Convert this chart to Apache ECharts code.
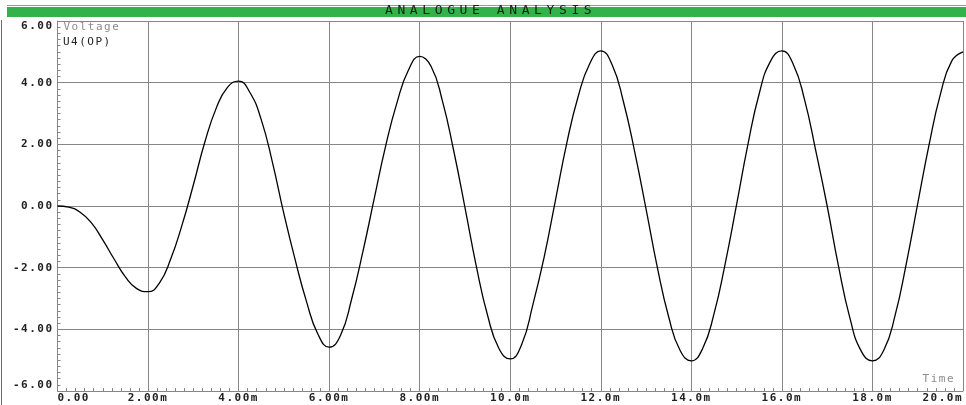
<!DOCTYPE html>
<html><head><meta charset="utf-8">
<script src="https://cdn.jsdelivr.net/npm/echarts@6/dist/echarts.min.js"></script>
<style>html,body{margin:0;padding:0;background:#fff}#c{width:966px;height:405px}</style>
</head><body><div id="c"></div>
<script>
const titleText = 'ANALOGUE ANALYSIS';
const yAxisName = 'Voltage';
const xAxisName = 'Time';
const seriesName = 'U4(OP)';
const xTickLabels = ['0.00','2.00m','4.00m','6.00m','8.00m','10.0m','12.0m','14.0m','16.0m','18.0m','20.0m'];
const yTickLabels = ['-6.00','-4.00','-2.00','0.00','2.00','4.00','6.00'];
const timeMs = [0,0.25,0.5,0.75,1,1.25,1.5,1.75,2,2.25,2.5,2.75,3,3.25,3.5,3.75,4,
  4.25,4.5,4.75,5,5.25,5.5,5.75,6,6.25,6.5,6.75,7,7.25,7.5,7.75,8,
  8.25,8.5,8.75,9,9.25,9.5,9.75,10,10.25,10.5,10.75,11,11.25,11.5,11.75,12,
  12.25,12.5,12.75,13,13.25,13.5,13.75,14,14.25,14.5,14.75,15,15.25,15.5,15.75,16,
  16.25,16.5,16.75,17,17.25,17.5,17.75,18,18.25,18.5,18.75,19,19.25,19.5,19.75,20];
const voltage = [0,-0.04,-0.2,-0.55,-1.1,-1.72,-2.3,-2.68,-2.78,-2.5,-1.72,-0.62,0.68,2.05,3.15,3.84,4.05,
  3.68,2.8,1.4,-0.25,-1.75,-3.1,-4.15,-4.58,-4.2,-3.0,-1.45,0.27,1.96,3.36,4.4,4.85,
  4.53,3.42,1.8,-0.05,-1.95,-3.55,-4.62,-4.96,-4.5,-3.2,-1.65,0.2,2.05,3.55,4.6,5.03,
  4.58,3.38,1.75,-0.1,-2.0,-3.6,-4.68,-5.02,-4.62,-3.5,-1.85,0.05,2.0,3.65,4.7,5.03,
  4.6,3.45,1.78,0.0,-1.95,-3.62,-4.7,-5.02,-4.68,-3.55,-1.85,0.08,1.98,3.62,4.7,5.0];

// wider letter spacing for the pixel-font look
(function(){
  const P = CanvasRenderingContext2D.prototype; const orig = P.fillText;
  P.fillText = function(t, x, y, m){
    if ('letterSpacing' in this && this.font && this.font.indexOf('DejaVu Sans Mono') >= 0) {
      const o = this.letterSpacing;
      this.letterSpacing = (t === titleText) ? '4.6px' : '1.5px';
      const r = (m === undefined) ? orig.call(this, t, x, y) : orig.call(this, t, x, y, m);
      this.letterSpacing = o; return r;
    }
    return (m === undefined) ? orig.call(this, t, x, y) : orig.call(this, t, x, y, m);
  };
})();

const FONT = 'DejaVu Sans Mono';
const GRID = '#868686';
const chart = echarts.init(document.getElementById('c'), null, {renderer:'canvas'});
chart.setOption({
  animation: false,
  backgroundColor: '#fff',
  title: { text: titleText, left: 385, top: 4, padding: 0, z: 10,
    textStyle: { fontFamily: FONT, fontSize: 13, fontWeight: 'normal', color: '#0f240f' } },
  legend: { left: 58, top: 37, padding: 0, icon: 'none', itemWidth: 0, itemHeight: 10,
    data: [seriesName], selectedMode: false,
    textStyle: { fontFamily: FONT, fontSize: 11, color: '#222' } },
  graphic: [
    { type: 'rect', left: 7, top: 7, z: 0, shape: { width: 959, height: 10 }, style: { fill: '#33b24a' } },
    { type: 'line', z: 0, shape: { x1: 7, y1: 5.5, x2: 966, y2: 5.5 }, style: { stroke: '#9a9a9a', lineWidth: 1 } },
    { type: 'line', z: 0, shape: { x1: 1.5, y1: 20, x2: 1.5, y2: 405 }, style: { stroke: '#6a6a6a', lineWidth: 1 } }
  ],
  grid: { left: 57.5, right: -4, top: 21, bottom: 14, containLabel: false },
  xAxis: {
    type: 'value', min: 0, max: 20, interval: 2,
    name: xAxisName, nameLocation: 'end', nameGap: -8,
    nameTextStyle: { fontFamily: FONT, fontSize: 11, color: '#8c8c8c', align: 'right', verticalAlign: 'bottom', padding: [0,0,6,0] },
    axisLine: { show: true, onZero: false, lineStyle: { color: GRID, width: 1 } },
    axisTick: { show: true, inside: true, length: 3, lineStyle: { color: GRID } },
    minorTick: { show: true, splitNumber: 10, length: 3, lineStyle: { color: GRID } },
    splitLine: { show: true, lineStyle: { color: GRID, width: 1 } },
    axisLabel: { margin: 2, fontFamily: FONT, fontSize: 11, fontWeight: 'bold', color: '#222',
      alignMinLabel: 'left', alignMaxLabel: 'right',
      formatter: v => xTickLabels[Math.round(v / 2)] }
  },
  yAxis: {
    type: 'value', min: -6, max: 6, interval: 2,
    name: yAxisName, nameLocation: 'end', nameGap: -6,
    nameTextStyle: { fontFamily: FONT, fontSize: 11, color: '#8c8c8c', align: 'left', verticalAlign: 'middle', padding: [0,0,0,6] },
    axisLine: { show: true, onZero: false, lineStyle: { color: GRID, width: 1 } },
    axisTick: { show: true, inside: true, length: 3, lineStyle: { color: GRID } },
    minorTick: { show: true, splitNumber: 10, length: 3, lineStyle: { color: GRID } },
    splitLine: { show: true, lineStyle: { color: GRID, width: 1 } },
    axisLabel: { margin: 4, fontFamily: FONT, fontSize: 11, fontWeight: 'bold', color: '#222',
      verticalAlignMaxLabel: 'top', verticalAlignMinLabel: 'bottom',
      formatter: v => yTickLabels[Math.round((v + 6) / 2)] }
  },
  series: [{
    name: seriesName, type: 'line', smooth: 0.5, symbol: 'none', color: '#000',
    lineStyle: { color: '#000', width: 1.3 },
    data: timeMs.map((t, i) => [t, voltage[i]])
  }]
});
</script>
</body></html>
